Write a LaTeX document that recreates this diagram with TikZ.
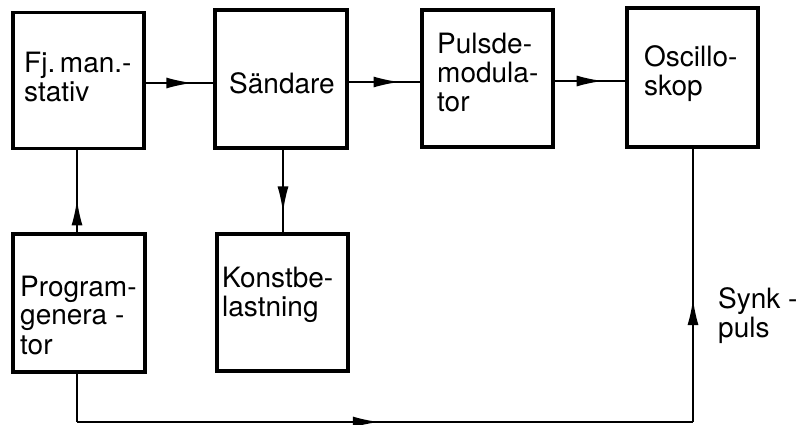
\documentclass[tikz,border=0pt]{standalone}
\usepackage{fontspec}
\setmainfont{TeX Gyre Heros}
\usetikzlibrary{arrows.meta,decorations.markings}
\tikzset{
  blk/.style={draw, line width=3.5pt, inner sep=0pt},
  lbl/.style={anchor=west, align=left, font=\fontsize{28}{29}\selectfont, inner sep=0pt},
  conn/.style={line width=1.8pt},
  midarrow/.style={postaction={decorate}, decoration={markings,
     mark=at position #1 with {\arrow{Latex[length=26pt,width=11pt]}}}},
}
\begin{document}
\begin{tikzpicture}[x=1pt,y=-1pt]
\useasboundingbox (0,0) rectangle (802,425);
% boxes
\node[blk, minimum width=131pt, minimum height=136pt] (fj)   at (78.5,80.5) {};
\node[blk, minimum width=132pt, minimum height=138pt] (sand) at (281,79) {};
\node[blk, minimum width=131pt, minimum height=137pt] (puls) at (487.5,78.5) {};
\node[blk, minimum width=131pt, minimum height=139pt] (osc)  at (692.5,77.5) {};
\node[blk, minimum width=132pt, minimum height=138pt] (prog) at (79,303) {};
\node[blk, minimum width=131pt, minimum height=137pt] (konst) at (282.5,302.5) {};
% labels
\node[lbl] (tfj) at (24,77) {Fj.\,man.-\\stativ};
\node[lbl] (tsand) at (229,83) {Sändare};
\node[lbl] (tpuls) at (437,73) {Pulsde-\\modula-\\tor};
\node[lbl] (tosc) at (644,74) {Oscillo-\\skop};
\node[lbl] (tprog) at (20,315) {Program-\\genera -\\tor};
\node[lbl] (tkonst) at (222,295) {Konstbe-\\lastning};
\node[lbl] (tsynk) at (718,316) {Synk -\\puls};
% connectors
\draw[conn, midarrow=0.69] (fj.east |- 0,83) -- (sand.west |- 0,83);
\draw[conn, midarrow=0.71] (sand.east |- 0,82) -- (puls.west |- 0,82);
\draw[conn, midarrow=0.68] (puls.east |- 0,81) -- (osc.west |- 0,81);
\draw[conn, midarrow=0.40] (prog.north -| 77,0) -- (fj.south -| 77,0);
\draw[conn, midarrow=0.76] (sand.south -| 283,0) -- (konst.north -| 283,0);
\coordinate (bl) at (77,422);
\coordinate (br) at (693,422);
\draw[conn] (prog.south -| bl) -- (bl);
\draw[conn, midarrow=0.49] (bl) -- (br);
\draw[conn, midarrow=0.45] (br) -- (osc.south -| br);
\end{tikzpicture}
\end{document}
